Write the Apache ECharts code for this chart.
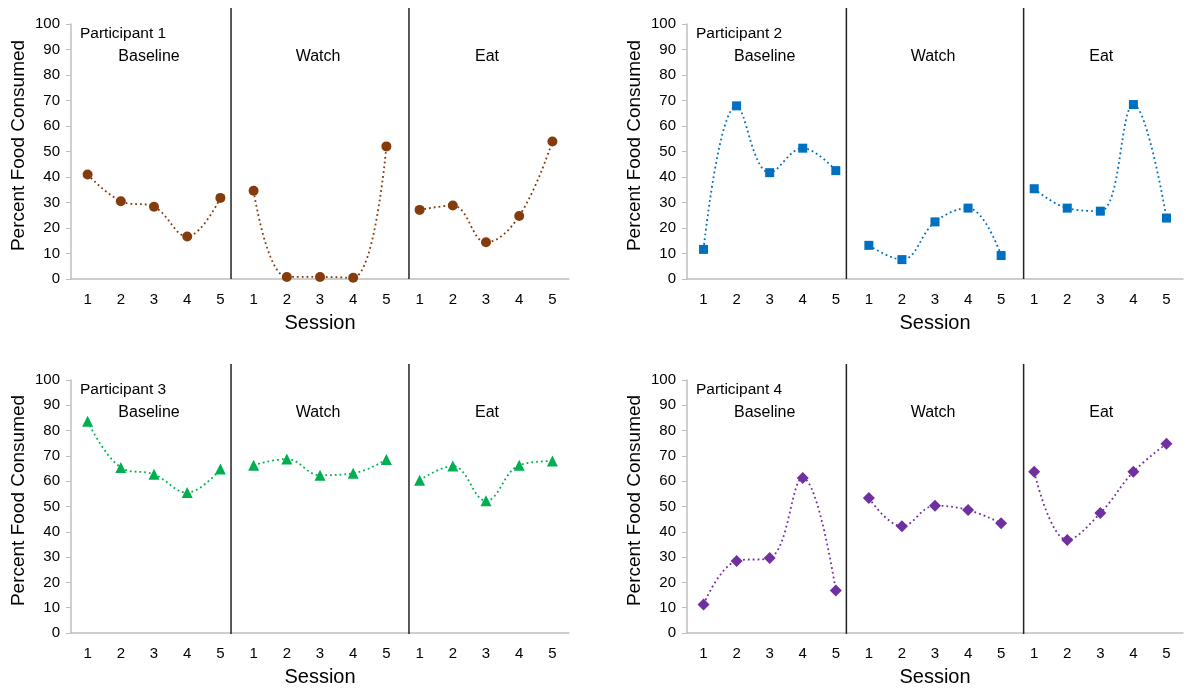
<!DOCTYPE html>
<html>
<head>
<meta charset="utf-8">
<script src="https://cdn.jsdelivr.net/npm/echarts@6/dist/echarts.min.js"></script>
<style>
  html, body { margin: 0; padding: 0; background: #fff; }
  #chart { width: 1186px; height: 688px; }
</style>
</head>
<body>
<div id="chart"></div>
<script>
const phases = ['Baseline', 'Watch', 'Eat'];
const sessions = ['1', '2', '3', '4', '5'];
// phase change lines, in category units from the left edge of the axis
const phaseLines = [4.82, 10.18];

const participant1 = [
  [41.0, 30.5, 28.3, 16.7, 31.8],
  [34.6, 0.8, 0.8, 0.5, 52.0],
  [27.1, 28.8, 14.4, 24.7, 53.9],
];
const participant2 = [
  [11.6, 67.9, 41.7, 51.3, 42.5],
  [13.2, 7.6, 22.4, 27.8, 9.2],
  [35.4, 27.8, 26.6, 68.4, 23.9],
];
const participant3 = [
  [83.7, 65.4, 62.7, 55.5, 64.8],
  [66.3, 68.8, 62.4, 63.1, 68.6],
  [60.4, 66.0, 52.3, 66.3, 68.0],
];
const participant4 = [
  [11.3, 28.5, 29.6, 61.3, 16.8],
  [53.4, 42.2, 50.3, 48.6, 43.4],
  [63.7, 36.8, 47.4, 63.7, 74.8],
];

const panels = [
  {name: 'Participant 1', data: participant1, color: '#843c0c', symbol: 'circle', size: 10,
   left: 71, right: 617, top: 24, bottom: 409, divTop: 8},
  {name: 'Participant 2', data: participant2, color: '#0070c0', symbol: 'rect', size: 9,
   left: 687, right: 3, top: 24, bottom: 409, divTop: 8},
  {name: 'Participant 3', data: participant3, color: '#00b050', symbol: 'triangle', size: 11,
   left: 71, right: 617, top: 380, bottom: 54, divTop: 364},
  {name: 'Participant 4', data: participant4, color: '#7030a0', symbol: 'diamond', size: 12,
   left: 687, right: 3, top: 380, bottom: 54, divTop: 364},
];

const categories = [];
phases.forEach(p => sessions.forEach(s => categories.push(p + '|' + s)));

const font = 'Liberation Sans, Arial, sans-serif';
const grid = [], xAxis = [], yAxis = [], series = [], title = [];

panels.forEach((panel, k) => {
  const g = k * 2;
  // plot grid
  grid.push({left: panel.left, right: panel.right, top: panel.top, bottom: panel.bottom});
  // divider grid (taller, so the phase lines stand above the plot)
  grid.push({left: panel.left, right: panel.right, top: panel.divTop, bottom: panel.bottom});

  xAxis.push({
    type: 'category', gridIndex: g, data: categories, boundaryGap: true,
    name: 'Session', nameLocation: 'middle', nameGap: 34,
    nameTextStyle: {fontFamily: font, fontSize: 20, color: '#000'},
    axisLine: {lineStyle: {color: '#bfbfbf', width: 1.5}},
    axisTick: {alignWithLabel: true, length: 4, lineStyle: {color: '#bfbfbf'}},
    axisLabel: {
      fontFamily: font, fontSize: 15, color: '#000', margin: 13, interval: 0,
      formatter: v => v.split('|')[1],
    },
    splitLine: {show: false},
  });
  xAxis.push({type: 'value', gridIndex: g + 1, min: 0, max: 15, show: false});

  yAxis.push({
    type: 'value', gridIndex: g, min: 0, max: 100, interval: 10,
    name: 'Percent Food Consumed', nameLocation: 'middle', nameGap: 43,
    nameTextStyle: {fontFamily: font, fontSize: 19, color: '#000', padding: [0, 0, 0, 12]},
    axisLine: {show: true, lineStyle: {color: '#bfbfbf', width: 1.5}},
    axisTick: {show: true, length: 5, lineStyle: {color: '#bfbfbf'}},
    axisLabel: {fontFamily: font, fontSize: 15, color: '#000', margin: 11},
    splitLine: {show: false},
  });
  yAxis.push({type: 'value', gridIndex: g + 1, min: 0, max: 1, show: false});

  panel.data.forEach((values, p) => {
    const row = categories.map(() => '-');
    values.forEach((v, i) => { row[p * 5 + i] = v; });
    series.push({
      type: 'line', xAxisIndex: g, yAxisIndex: g, data: row,
      smooth: 0.4, connectNulls: false,
      symbol: panel.symbol, symbolSize: panel.size, showSymbol: true,
      itemStyle: {color: panel.color},
      lineStyle: {color: panel.color, width: 1.8, type: [1.8, 3]},
      z: 3,
    });
  });

  phaseLines.forEach(x => {
    series.push({
      type: 'line', xAxisIndex: g + 1, yAxisIndex: g + 1,
      data: [[x, 0], [x, 1]], symbol: 'none',
      lineStyle: {color: '#222', width: 1.5}, z: 2,
    });
  });

  // participant and phase labels
  const plotW = 1186 - panel.left - panel.right;
  const cat = plotW / 15;
  title.push({
    text: panel.name, left: panel.left + 9, top: panel.top + 2, padding: 0,
    textStyle: {fontFamily: font, fontSize: 15.5, fontWeight: 'normal', color: '#000'},
  });
  const bounds = [0, phaseLines[0], phaseLines[1], 15];
  phases.forEach((ph, p) => {
    const cx = panel.left + (bounds[p] + bounds[p + 1]) / 2 * cat - 2;
    title.push({
      text: ph, left: cx, top: panel.top + 25, textAlign: 'center', padding: 0,
      textStyle: {fontFamily: font, fontSize: 16, fontWeight: 'normal', color: '#000'},
    });
  });
});

const chart = echarts.init(document.getElementById('chart'));
chart.setOption({
  animation: false,
  backgroundColor: '#fff',
  title: title,
  grid: grid,
  xAxis: xAxis,
  yAxis: yAxis,
  series: series,
});
</script>
</body>
</html>
